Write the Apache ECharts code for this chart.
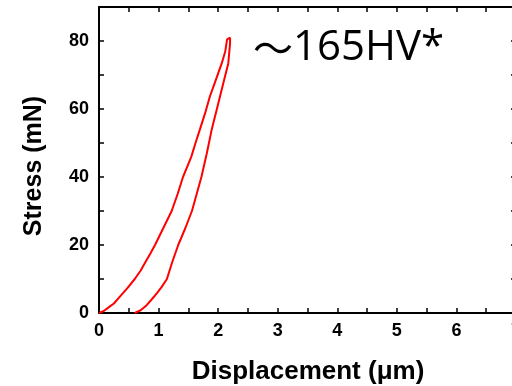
<!DOCTYPE html>
<html>
<head>
<meta charset="utf-8">
<script src="https://cdn.jsdelivr.net/npm/echarts@6/dist/echarts.min.js"></script>
<style>html,body{margin:0;padding:0;background:#fff;overflow:hidden}#c{width:524px;height:386px}</style>
</head>
<body>
<div id="c"></div>
<script>
const loadX = [0, 0.08, 0.15, 0.25, 0.35, 0.48, 0.6, 0.7, 0.78, 0.86, 0.94, 1.01, 1.08, 1.15, 1.22, 1.32, 1.41, 1.48, 1.55, 1.62, 1.69, 1.78, 1.86, 1.96, 2.06, 2.12, 2.15, 2.2];
const loadY = [0, 0.6, 1.5, 2.8, 4.8, 7.4, 10.0, 12.5, 15.0, 17.4, 20.0, 22.5, 25.0, 27.5, 30.0, 35.0, 40.0, 43.0, 46.0, 50.0, 53.8, 58.7, 63.6, 68.5, 73.4, 77.0, 80.5, 81.0];
const unloadX = [2.2, 2.21, 2.2, 2.17, 2.1, 2.03, 1.96, 1.89, 1.81, 1.72, 1.64, 1.56, 1.45, 1.33, 1.23, 1.14, 1.05, 0.97, 0.88, 0.80, 0.70, 0.6];
const unloadY = [81.0, 80.5, 79.3, 73.4, 68.5, 63.6, 58.7, 53.8, 47.0, 40.1, 35.0, 30.0, 25.0, 20.0, 15.0, 10.0, 7.6, 5.8, 3.9, 2.3, 0.8, 0];
const xTicks = [0, 1, 2, 3, 4, 5, 6, 7];
const yTicks = [0, 20, 40, 60, 80];
const xTitle = 'Displacement (\u03BCm)';
const yTitle = 'Stress (mN)';
const annoTilde = '\uFF5E';
const annoText = '165HV*';

const loadData = loadX.map((x, i) => [x, loadY[i]]);
const unloadData = unloadX.map((x, i) => [x, unloadY[i]]);

const chart = echarts.init(document.getElementById('c'), null, {renderer: 'canvas'});
const axisLine = {show: true, onZero: false, lineStyle: {color: '#000', width: 2}};
const tick = {show: true, inside: true, length: 5, lineStyle: {color: '#000', width: 1.5}};
const minorTick = {show: true, splitNumber: 2, length: 5, lineStyle: {color: '#000', width: 1.5}};
const lblFont = {fontFamily: 'Liberation Sans', fontWeight: 'bold', fontSize: 18, color: '#000'};
chart.setOption({
  animation: false,
  grid: {left: 99, right: 8, top: 7, bottom: 73, containLabel: false},
  xAxis: [{
    type: 'value', min: xTicks[0], max: xTicks[xTicks.length - 1], interval: 1, position: 'bottom',
    axisLine: axisLine, axisTick: tick, minorTick: minorTick, splitLine: {show: false},
    axisLabel: Object.assign({margin: 9}, lblFont)
  }, {
    type: 'value', min: xTicks[0], max: xTicks[xTicks.length - 1], interval: 1, position: 'top',
    axisLine: axisLine, axisTick: tick, minorTick: minorTick, splitLine: {show: false},
    axisLabel: {show: false}
  }],
  yAxis: [{
    type: 'value', min: 0, max: 90, interval: 20, position: 'left',
    axisLine: axisLine, axisTick: tick, minorTick: minorTick, splitLine: {show: false},
    axisLabel: Object.assign({margin: 10, formatter: v => yTicks.includes(v) ? String(v) : ''}, lblFont)
  }, {
    type: 'value', min: 0, max: 90, interval: 20, position: 'right',
    axisLine: axisLine, axisTick: tick, minorTick: minorTick, splitLine: {show: false},
    axisLabel: {show: false}
  }],
  series: [{
    type: 'line', data: loadData, showSymbol: false, symbol: 'none',
    lineStyle: {color: '#ff0000', width: 2}, xAxisIndex: 0, yAxisIndex: 0
  }, {
    type: 'line', data: unloadData, showSymbol: false, symbol: 'none',
    lineStyle: {color: '#ff0000', width: 2}, xAxisIndex: 0, yAxisIndex: 0
  }],
  graphic: [{
    type: 'text', left: 253, top: 27,
    style: {
      text: '{t|' + annoTilde + '}{a|' + annoText + '}',
      rich: {
        t: {fontFamily: 'Noto Sans CJK JP', fontSize: 40, fill: '#000', lineHeight: 44},
        a: {fontFamily: 'Open Sans', fontSize: 42, fill: '#000', lineHeight: 44}
      }
    }
  }, {
    type: 'text', x: 308, y: 372,
    style: {text: xTitle, fontFamily: 'Liberation Sans', fontWeight: 'bold', fontSize: 26, fill: '#000', align: 'center', verticalAlign: 'middle'}
  }, {
    type: 'text', x: 34, y: 166, rotation: Math.PI / 2,
    style: {text: yTitle, fontFamily: 'Liberation Sans', fontWeight: 'bold', fontSize: 25, fill: '#000', align: 'center', verticalAlign: 'middle'}
  }]
});
</script>
</body>
</html>
